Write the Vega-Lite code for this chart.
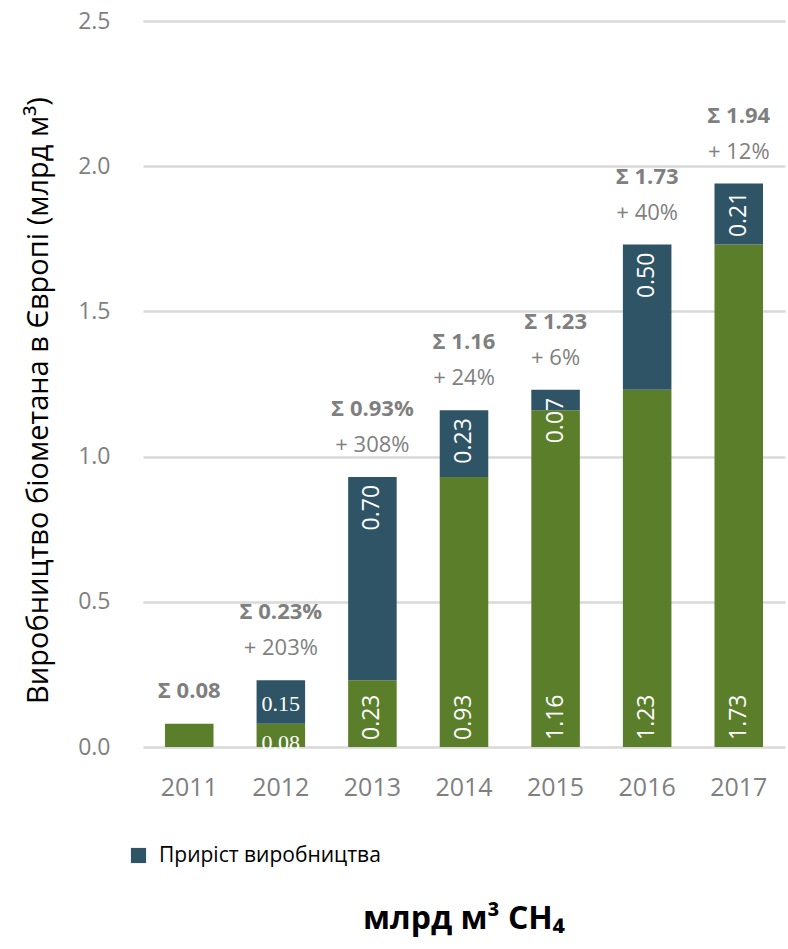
{
  "$schema": "https://vega.github.io/schema/vega-lite/v6.json",
  "width": 642,
  "height": 726,
  "autosize": "none",
  "padding": {"left": 143, "top": 21, "right": 3, "bottom": 202},
  "background": "white",
  "config": {
    "view": {"stroke": null},
    "font": "Open Sans"
  },
  "title": {
    "text": "млрд м³ CH₄",
    "orient": "bottom",
    "anchor": "middle",
    "frame": "group",
    "font": "Open Sans",
    "fontSize": 32,
    "fontWeight": "bold",
    "color": "#000000",
    "offset": 38
  },
  "datasets": {
    "bars": [
      {"year": "2011", "series": "Виробництво", "layer": 1, "value": 0.08},
      {"year": "2012", "series": "Виробництво", "layer": 1, "value": 0.08},
      {"year": "2012", "series": "Приріст виробництва", "layer": 2, "value": 0.15},
      {"year": "2013", "series": "Виробництво", "layer": 1, "value": 0.23},
      {"year": "2013", "series": "Приріст виробництва", "layer": 2, "value": 0.70},
      {"year": "2014", "series": "Виробництво", "layer": 1, "value": 0.93},
      {"year": "2014", "series": "Приріст виробництва", "layer": 2, "value": 0.23},
      {"year": "2015", "series": "Виробництво", "layer": 1, "value": 1.16},
      {"year": "2015", "series": "Приріст виробництва", "layer": 2, "value": 0.07},
      {"year": "2016", "series": "Виробництво", "layer": 1, "value": 1.23},
      {"year": "2016", "series": "Приріст виробництва", "layer": 2, "value": 0.50},
      {"year": "2017", "series": "Виробництво", "layer": 1, "value": 1.73},
      {"year": "2017", "series": "Приріст виробництва", "layer": 2, "value": 0.21}
    ],
    "totals": [
      {"year": "2011", "total": 0.08, "sum": "Σ 0.08", "growth": ""},
      {"year": "2012", "total": 0.23, "sum": "Σ 0.23%", "growth": "+ 203%"},
      {"year": "2013", "total": 0.93, "sum": "Σ 0.93%", "growth": "+ 308%"},
      {"year": "2014", "total": 1.16, "sum": "Σ 1.16", "growth": "+ 24%"},
      {"year": "2015", "total": 1.23, "sum": "Σ 1.23", "growth": "+ 6%"},
      {"year": "2016", "total": 1.73, "sum": "Σ 1.73", "growth": "+ 40%"},
      {"year": "2017", "total": 1.94, "sum": "Σ 1.94", "growth": "+ 12%"}
    ]
  },
  "encoding": {
    "x": {
      "field": "year",
      "type": "nominal",
      "sort": null,
      "scale": {"paddingInner": 0.47, "paddingOuter": 0.24},
      "axis": {
        "title": null,
        "labelAngle": 0,
        "labelFont": "Open Sans",
        "labelFontSize": 25,
        "labelColor": "#7f7f7f",
        "labelPadding": 28,
        "domain": false,
        "ticks": false
      }
    }
  },
  "layer": [
    {
      "data": {"name": "bars"},
      "transform": [
        {"stack": "value", "groupby": ["year"], "sort": [{"field": "layer"}], "as": ["v0", "v1"]}
      ],
      "layer": [
        {
          "mark": {"type": "bar"},
          "encoding": {
            "y": {
              "field": "v0",
              "type": "quantitative",
              "scale": {"domain": [0, 2.5], "nice": false},
              "axis": {
                "title": "Виробництво біометана в Європі (млрд м³)",
                "titleFont": "Open Sans",
                "titleFontSize": 29,
                "titleFontWeight": "normal",
                "titleColor": "#000000",
                "titlePadding": 24,
                "titleY": 379,
                "values": [0, 0.5, 1, 1.5, 2, 2.5],
                "format": ".1f",
                "labelFont": "Open Sans",
                "labelFontSize": 23,
                "labelColor": "#7f7f7f",
                "labelPadding": 33,
                "domain": false,
                "ticks": false,
                "gridColor": "#d9d9d9",
                "gridWidth": 2.5
              }
            },
            "y2": {"field": "v1"},
            "color": {
              "field": "series",
              "type": "nominal",
              "scale": {
                "domain": ["Виробництво", "Приріст виробництва"],
                "range": ["#5b7e2b", "#2e5466"]
              },
              "legend": {
                "values": ["Приріст виробництва"],
                "title": null,
                "orient": "none",
                "legendX": -15,
                "legendY": 824,
                "direction": "vertical",
                "symbolType": "square",
                "symbolSize": 230,
                "symbolStrokeWidth": 0,
                "labelFont": "Open Sans",
                "labelFontSize": 21,
                "labelColor": "#000000",
                "labelOffset": 10,
                "labelLimit": 400
              }
            }
          }
        },
        {
          "transform": [
            {"filter": "datum.layer == 1 && datum.year != '2011' && datum.year != '2012'"}
          ],
          "mark": {
            "type": "text",
            "angle": 270,
            "align": "left",
            "baseline": "middle",
            "dx": 7,
            "font": "Open Sans",
            "fontSize": 23,
            "color": "#ffffff"
          },
          "encoding": {
            "y": {"field": "v0", "type": "quantitative"},
            "text": {"field": "value", "type": "quantitative", "format": ".2f"}
          }
        },
        {
          "transform": [
            {"filter": "datum.layer == 2 && datum.year != '2012'"}
          ],
          "mark": {
            "type": "text",
            "angle": 270,
            "align": "right",
            "baseline": "middle",
            "dx": -8,
            "font": "Open Sans",
            "fontSize": 23,
            "color": "#ffffff"
          },
          "encoding": {
            "y": {"field": "v1", "type": "quantitative"},
            "text": {"field": "value", "type": "quantitative", "format": ".2f"}
          }
        },
        {
          "transform": [
            {"filter": "datum.layer == 2 && datum.year == '2012'"},
            {"calculate": "(datum.v0 + datum.v1) / 2", "as": "mid"}
          ],
          "mark": {
            "type": "text",
            "align": "center",
            "baseline": "middle",
            "dy": 2,
            "font": "Liberation Serif",
            "fontSize": 22,
            "color": "#ffffff"
          },
          "encoding": {
            "y": {"field": "mid", "type": "quantitative"},
            "text": {"field": "value", "type": "quantitative", "format": ".2f"}
          }
        },
        {
          "transform": [
            {"filter": "datum.layer == 1 && datum.year == '2012'"}
          ],
          "mark": {
            "type": "text",
            "align": "center",
            "baseline": "alphabetic",
            "dy": 3,
            "font": "Liberation Serif",
            "fontSize": 22,
            "color": "#ffffff"
          },
          "encoding": {
            "y": {"field": "v0", "type": "quantitative"},
            "text": {"field": "value", "type": "quantitative", "format": ".2f"}
          }
        }
      ]
    },
    {
      "data": {"name": "totals"},
      "transform": [{"filter": "datum.growth != ''"}],
      "layer": [
        {
          "mark": {
            "type": "text",
            "baseline": "middle",
            "dy": -32,
            "font": "Open Sans",
            "fontSize": 22,
            "color": "#7f7f7f"
          },
          "encoding": {
            "y": {"field": "total", "type": "quantitative"},
            "text": {"field": "growth"}
          }
        },
        {
          "mark": {
            "type": "text",
            "baseline": "middle",
            "dy": -68,
            "font": "Open Sans",
            "fontSize": 22,
            "fontWeight": "bold",
            "color": "#7f7f7f"
          },
          "encoding": {
            "y": {"field": "total", "type": "quantitative"},
            "text": {"field": "sum"}
          }
        }
      ]
    },
    {
      "data": {"name": "totals"},
      "transform": [{"filter": "datum.growth == ''"}],
      "mark": {
        "type": "text",
        "baseline": "middle",
        "dy": -33,
        "font": "Open Sans",
        "fontSize": 22,
        "fontWeight": "bold",
        "color": "#7f7f7f"
      },
      "encoding": {
        "y": {"field": "total", "type": "quantitative"},
        "text": {"field": "sum"}
      }
    }
  ]
}
